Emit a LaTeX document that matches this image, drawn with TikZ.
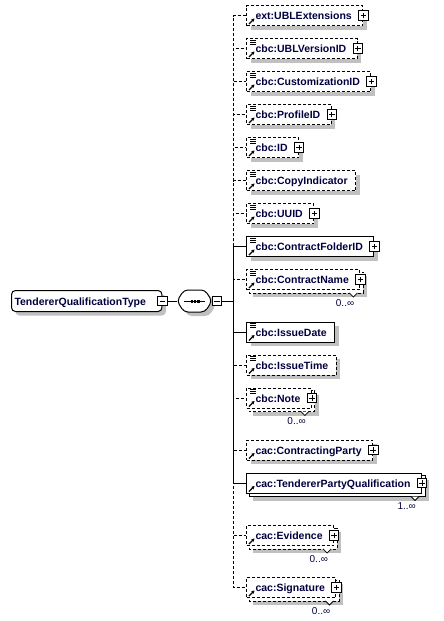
\documentclass[tikz,border=0pt]{standalone}
\usepackage{fontspec}
\setmainfont{Liberation Sans}
\usetikzlibrary{shadows,arrows.meta}
\definecolor{navy}{RGB}{0,0,64}
\definecolor{shadowgray}{RGB}{192,192,192}
\pgfdeclarelayer{bgzero}
\pgfdeclarelayer{bgone}
\pgfsetlayers{bgzero,bgone,main}
\newcommand{\efont}{\fontsize{10.5pt}{12pt}\selectfont\bfseries}
\newcommand{\mfont}{\fontsize{10pt}{12pt}\selectfont}
\tikzset{
  elem/.style={draw, fill=white, line width=1pt, anchor=west, minimum height=20pt,
    inner xsep=0pt, inner ysep=0pt, text height=9pt, text depth=1pt,
    font=\efont, text=navy, execute at begin node={\hspace*{9pt}}},
  withplus/.style={execute at end node={\hspace*{11pt}}},
  noplus/.style={execute at end node={\hspace*{8pt}}},
  opt/.style={dash pattern=on 3pt off 2pt},
  shad/.style={general shadow={fill=shadowgray, shadow xshift=4pt, shadow yshift=-4pt}},
  plusb/.style={draw, fill=white, solid, line width=0.8pt, minimum size=9.5pt, inner sep=0pt,
    path picture={\draw[line width=0.8pt]
      ([xshift=2pt]path picture bounding box.west) -- ([xshift=-2pt]path picture bounding box.east)
      ([yshift=2pt]path picture bounding box.south) -- ([yshift=-2pt]path picture bounding box.north);}},
  minusb/.style={draw, fill=white, solid, line width=0.8pt, minimum size=9.5pt, inner sep=0pt,
    path picture={\draw[line width=0.8pt]
      ([xshift=2pt]path picture bounding box.west) -- ([xshift=-2pt]path picture bounding box.east);}},
  rootbox/.style={draw, fill=white, line width=1pt, rounded corners=4pt, anchor=west,
    minimum height=21pt, inner xsep=0pt, inner ysep=0pt, text height=9pt, text depth=1pt,
    font=\efont, text=navy, execute at begin node={\hspace*{3pt}},
    execute at end node={\hspace*{16pt}}, shad},
  seqn/.style={minimum width=35pt, minimum height=22pt, inner sep=0pt},
  conn/.style={line width=1pt},
  mult/.style={font=\mfont, text=navy, inner sep=0pt, anchor=base east},
  backbox/.style={fill=white, line width=1pt},
  iconl/.style={solid, line width=0.7pt},
  iconarr/.style={solid, line width=1.1pt, -{Stealth[length=3.2pt,width=3.6pt]}},
  vnotch/.style={solid, fill=white, line width=0.8pt}
}
\begin{document}
\begin{tikzpicture}[x=1pt, y=-1pt]
\useasboundingbox (0,0) rectangle (444,621);

% root and sequence
\node[rootbox] (root) at (11,301) {TendererQualificationType};
\node[minusb] (rm) at (root.east) {};
\node[seqn] (seq) at (194.5,301) {};
\begin{scope}[shift={(4,4)}]
  \fill[shadowgray, rounded corners=4pt] (177,301) -- (184,290) -- (205,290) -- (212,301) -- (205,312) -- (184,312) -- cycle;
\end{scope}
\draw[fill=white, line width=1pt, rounded corners=4pt] (177,301) -- (184,290) -- (205,290) -- (212,301) -- (205,312) -- (184,312) -- cycle;
\draw[line width=1pt] (184,301) -- (205,301);
\draw[line width=3pt, dash pattern=on 2.4pt off 1pt] (190.5,301) -- (199.5,301);
\node[minusb] (sm) at (217,301) {};
\coordinate (br) at (233,301);

% children
\node[elem, opt, shad, withplus] (c1) at (246,15.5) {ext:UBLExtensions};
\node[elem, opt, shad, withplus] (c2) at (246,48.5) {cbc:UBLVersionID};
\node[elem, opt, shad, withplus] (c3) at (246,81.5) {cbc:CustomizationID};
\node[elem, opt, shad, withplus] (c4) at (246,114.5) {cbc:ProfileID};
\node[elem, opt, shad, withplus] (c5) at (246,147.5) {cbc:ID};
\node[elem, opt, shad, noplus] (c6) at (246,180.5) {cbc:CopyIndicator};
\node[elem, opt, shad, withplus] (c7) at (246,213.5) {cbc:UUID};
\node[elem, shad, withplus] (c8) at (246,246.5) {cbc:ContractFolderID};
\node[elem, opt, withplus] (c9) at (246,279.5) {cbc:ContractName};
\node[elem, shad, noplus] (c10) at (246,332) {cbc:IssueDate};
\node[elem, opt, shad, noplus] (c11) at (246,365) {cbc:IssueTime};
\node[elem, opt, withplus] (c12) at (246,398) {cbc:Note};
\node[elem, opt, shad, withplus] (c13) at (246,450) {cac:ContractingParty};
\node[elem, withplus] (c14) at (246,483) {cac:TendererPartyQualification};
\node[elem, opt, withplus] (c15) at (246,535.5) {cac:Evidence};
\node[elem, opt, withplus] (c16) at (246,587.5) {cac:Signature};

% stacked back boxes and shadows of repeated elements
\begin{pgfonlayer}{bgzero}
  \foreach \n in {c9,c12,c14,c15,c16}
    \fill[shadowgray] ([shift={(7,7)}]\n.north west) rectangle ([shift={(7,7)}]\n.south east);
\end{pgfonlayer}
\begin{pgfonlayer}{bgone}
  \foreach \n in {c9,c12,c15,c16}
    \draw[backbox, opt] ([shift={(3,3)}]\n.north west) rectangle ([shift={(3,3)}]\n.south east);
  \draw[backbox] ([shift={(3,3)}]c14.north west) rectangle ([shift={(3,3)}]c14.south east);
\end{pgfonlayer}
\foreach \n in {c9,c12,c14,c15,c16}
  \draw[vnotch] ([shift={(-11,3)}]\n.south east) -- ++(4,4) -- ++(4,-4);

% plus boxes
\foreach \n in {c1,c2,c3,c4,c5,c7,c8,c9,c12,c13,c14,c15,c16}
  \node[plusb] (p\n) at (\n.east) {};

% icons
\foreach \n in {c2,c3,c4,c5,c6,c7,c8,c9,c10,c11,c12}
  \draw[iconl] ([shift={(4,2)}]\n.north west) -- ++(5.5,0)
               ([shift={(4,4)}]\n.north west) -- ++(5.5,0)
               ([shift={(4,6)}]\n.north west) -- ++(5.5,0);
\foreach \n in {c1,c2,c3,c4,c5,c6,c7,c8,c9,c10,c11,c12,c13,c14,c15,c16}
  \draw[iconarr] ([shift={(3,-2)}]\n.south west) -- ++(5.5,-5.5);

% multiplicities
\node[mult] (m9) at ([shift={(-6,16)}]c9.south east) {0..∞};
\node[mult] (m12) at ([shift={(-6,16)}]c12.south east) {0..∞};
\node[mult] (m14) at ([shift={(-6,16)}]c14.south east) {1..∞};
\node[mult] (m15) at ([shift={(-6,16)}]c15.south east) {0..∞};
\node[mult] (m16) at ([shift={(-6,16)}]c16.south east) {0..∞};

% connectors
\draw[conn] (rm.east) -- (seq.west);
\draw[conn] (sm.east) -- (br);
\foreach \n in {c1,c2,c3,c4,c5,c6,c7,c9,c11,c12,c13,c15,c16}
  \draw[conn, opt] (br) |- (\n.west);
\foreach \n in {c8,c10,c14}
  \draw[conn] (br) |- (\n.west);
\end{tikzpicture}
\end{document}
